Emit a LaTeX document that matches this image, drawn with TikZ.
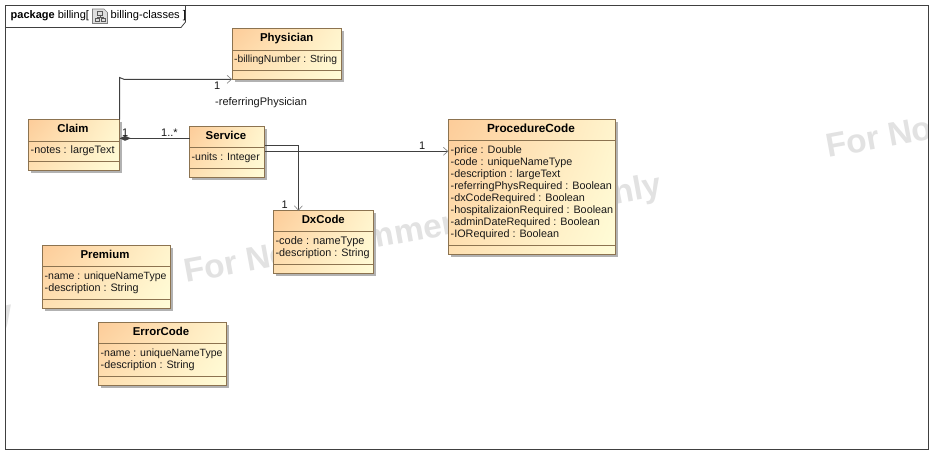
\documentclass[tikz,border=0pt]{standalone}
\usepackage{fontspec}
\setmainfont{Liberation Sans}
\usetikzlibrary{shadows,shadings,arrows.meta}
\definecolor{bordc}{RGB}{140,115,80}
\definecolor{linec}{RGB}{64,64,64}
\definecolor{wm}{RGB}{226,226,226}
\definecolor{gUL}{RGB}{253,204,153}
\definecolor{gLL}{RGB}{254,224,178}
\definecolor{gUR}{RGB}{255,244,205}
\definecolor{gLR}{RGB}{255,253,216}
\tikzset{
  classbox/.style={draw=bordc,line width=1pt,anchor=north west,inner sep=0pt,outer sep=0pt,
    upper left=gUL,lower left=gLL,upper right=gUR,lower right=gLR,
    drop shadow={shadow xshift=2.5pt,shadow yshift=-2.5pt,fill=black!30,opacity=1}},
  divider/.style={draw=bordc,line width=1pt},
  title/.style={font=\fontsize{11.4}{13}\selectfont\bfseries,anchor=base,inner sep=0pt},
  attr/.style={font=\fontsize{10.8}{12}\selectfont,anchor=base west,inner sep=0pt,text=black!90},
  attrnarrow/.style={attr,font=\fontsize{10.5}{12}\selectfont},
  lab/.style={font=\fontsize{11}{13}\selectfont,anchor=base west,inner sep=0pt,text=black!90},
  conn/.style={draw=linec,line width=1pt},
  openarrow/.style={-{Straight Barb[length=4.5pt,width=8pt,line width=0.6pt,color=gray]}},
  frameline/.style={draw=linec,line width=1pt},
  watermark/.style={font=\fontsize{33.4}{36}\selectfont\bfseries,text=wm,rotate=10.4,anchor=base west,inner sep=0pt}
}
\begin{document}
\begin{tikzpicture}[x=1pt,y=-1pt]
\useasboundingbox (0,0) rectangle (943,464);
\fill[white] (0,0) rectangle (943,464);
% watermark
\begin{scope}
\clip (5.5,5.5) rectangle (928.5,449.5);
\node[watermark] (wm1) at (-462,409.5) {For Non-Commercial Use Only};
\node[watermark] (wm2) at (186,283) {For Non-Commercial Use Only};
\node[watermark] (wm3) at (828,158) {For Non-Commercial Use Only};
\end{scope}
% frame
\draw[frameline] (5.5,5.5) rectangle (928.5,449.5);
\draw[frameline,line width=0.8pt] (5.5,27.5) -- (181,27.5) -- (185.5,22) -- (185.5,5.5);
\node[anchor=base west,inner sep=0pt,font=\fontsize{11}{13}\selectfont] (pkg) at (10.5,18) {\textbf{package} billing[};
\draw[draw=gray,fill=black!13,line width=0.7pt] (92.5,9) -- (104,9) -- (107.5,12.5) -- (107.5,23.5) -- (92.5,23.5) -- cycle;
\draw[draw=black!65,line width=0.7pt] (97.5,11.5) rectangle (102.5,15) (95,18.5) rectangle (99,21.5) (101,18.5) rectangle (105,21.5)
  (100,15) -- (100,17) (97,18.5) -- (97,17) -- (103,17) -- (103,18.5);
\node[anchor=base west,inner sep=0pt,font=\fontsize{11.1}{13}\selectfont] (diag) at (110.5,18) {billing-classes ]};
% classes
\node[classbox,minimum width=109.5pt,minimum height=51pt] (physician) at (232,28.3) {};
\draw[divider] (232,50) -- (341.5,50) (232,70.7) -- (341.5,70.7);
\node[title] (physicianT) at (286.7,41) {Physician};
\node[attr,font=\fontsize{10.3}{12}\selectfont] (physicianA) at (234,62) {-billingNumber : String};

\node[classbox,minimum width=91pt,minimum height=51pt] (claim) at (28.5,119.5) {};
\draw[divider] (28.5,141.5) -- (119.5,141.5) (28.5,161.5) -- (119.5,161.5);
\node[title] (claimT) at (73,132) {Claim};
\node[attr] (claimA) at (30.5,153) {-notes : largeText};

\node[classbox,minimum width=75pt,minimum height=51pt] (service) at (189.5,126.5) {};
\draw[divider] (189.5,147.5) -- (264.5,147.5) (189.5,168) -- (264.5,168);
\node[title] (serviceT) at (226,139) {Service};
\node[attrnarrow] (serviceA) at (191.5,160) {-units : Integer};

\node[classbox,minimum width=100pt,minimum height=62.7pt] (dxcode) at (273.3,210.7) {};
\draw[divider] (273.3,231.7) -- (373.3,231.7) (273.3,264.3) -- (373.3,264.3);
\node[title] (dxcodeT) at (323.3,223) {DxCode};
\node[attr,font=\fontsize{11}{12}\selectfont] (dxcodeA) at (275.3,244) {-code : nameType};
\node[attr] (dxcodeB) at (275.3,256) {-description : String};

\node[classbox,minimum width=167.4pt,minimum height=134.7pt] (proc) at (448.3,119.3) {};
\draw[divider] (448.3,140) -- (615.7,140) (448.3,245) -- (615.7,245);
\node[title,font=\fontsize{11.8}{13}\selectfont\bfseries] (procT) at (531,132) {ProcedureCode};
\node[attr] (procA) at (450.5,153) {-price : Double};
\node[attr] (procB) at (450.5,165) {-code : uniqueNameType};
\node[attr] (procC) at (450.5,177) {-description : largeText};
\node[attr] (procD) at (450.5,189) {-referringPhysRequired : Boolean};
\node[attr] (procE) at (450.5,201) {-dxCodeRequired : Boolean};
\node[attr] (procF) at (450.5,213) {-hospitalizaionRequired : Boolean};
\node[attr] (procG) at (450.5,225) {-adminDateRequired : Boolean};
\node[attr] (procH) at (450.5,237) {-IORequired : Boolean};

\node[classbox,minimum width=128.4pt,minimum height=63.3pt] (premium) at (42.3,245) {};
\draw[divider] (42.3,266.7) -- (170.7,266.7) (42.3,299.3) -- (170.7,299.3);
\node[title] (premiumT) at (105,258) {Premium};
\node[attrnarrow] (premiumA) at (44.5,279) {-name : uniqueNameType};
\node[attr] (premiumB) at (44.5,291) {-description : String};

\node[classbox,minimum width=128.4pt,minimum height=63.3pt] (errorcode) at (98.3,322.3) {};
\draw[divider] (98.3,343.3) -- (226.7,343.3) (98.3,376.3) -- (226.7,376.3);
\node[title] (errorcodeT) at (161,335) {ErrorCode};
\node[attrnarrow] (errorcodeA) at (100.5,356) {-name : uniqueNameType};
\node[attr] (errorcodeB) at (100.5,368) {-description : String};

% connectors
\coordinate (hopA) at (119.5,77.5);
\coordinate (hopB) at (124,79.3);
\draw[conn,openarrow] (claim.north east) -- (hopA) -- (hopB) -- (physician.south west);
\draw[conn] (claim.east |- 0,138.3) -- (service.west |- 0,138.3);
\fill[linec] (119.7,138.3) -- (125,135.8) -- (131,138.3) -- (125,140.8) -- cycle;
\coordinate (dxBend) at (298.4,145);
\draw[conn,openarrow] (service.east |- dxBend) -- (dxBend) -- (dxcode.north -| dxBend);
\coordinate (prA) at (264.5,151.3);
\draw[conn,openarrow] (service.east |- prA) -- (proc.west |- prA);
% labels
\node[lab] (l1) at (214,89) {1};
\node[lab] (l2) at (215,105) {-referringPhysician};
\node[lab] (l3) at (122,136) {1};
\node[lab] (l4) at (161,136) {1..*};
\node[lab] (l5) at (419,149.5) {1};
\node[lab] (l6) at (281.5,208) {1};
\end{tikzpicture}
\end{document}
